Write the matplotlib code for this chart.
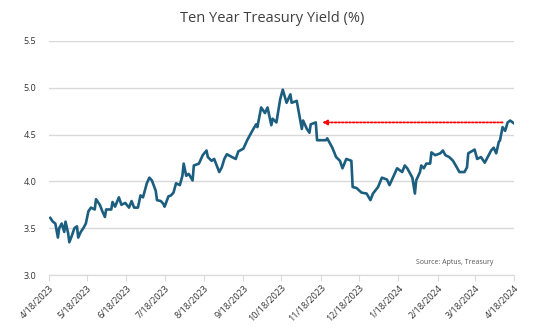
import matplotlib
matplotlib.use("Agg")
import matplotlib.pyplot as plt
import matplotlib.dates as mdates
import pandas as pd

plt.rcParams['font.family'] = ['Open Sans', 'DejaVu Sans']

dates = ["2023-04-19","2023-04-21","2023-04-23","2023-04-25","2023-04-26","2023-04-28","2023-04-30",
"2023-05-01","2023-05-03","2023-05-04","2023-05-06","2023-05-08","2023-05-10","2023-05-11","2023-05-13",
"2023-05-15","2023-05-17","2023-05-19","2023-05-21","2023-05-24","2023-05-25","2023-05-28","2023-05-30",
"2023-06-01","2023-06-02","2023-06-06","2023-06-07","2023-06-09","2023-06-12","2023-06-14","2023-06-17",
"2023-06-20","2023-06-22","2023-06-24","2023-06-27","2023-06-29","2023-07-01","2023-07-02","2023-07-04",
"2023-07-06","2023-07-08","2023-07-11","2023-07-12","2023-07-15","2023-07-17","2023-07-18","2023-07-21",
"2023-07-23","2023-07-25","2023-07-27","2023-07-30","2023-08-01","2023-08-02","2023-08-04","2023-08-06",
"2023-08-09","2023-08-10","2023-08-14","2023-08-17","2023-08-20","2023-08-21","2023-08-24","2023-08-26",
"2023-08-30","2023-09-01","2023-09-03","2023-09-05","2023-09-09","2023-09-12","2023-09-14","2023-09-18",
"2023-09-21","2023-09-25","2023-09-28","2023-09-29","2023-10-02","2023-10-05","2023-10-07","2023-10-10",
"2023-10-11","2023-10-14","2023-10-17","2023-10-19","2023-10-22","2023-10-25","2023-10-26","2023-10-30",
"2023-11-03","2023-11-04","2023-11-07","2023-11-09","2023-11-10","2023-11-14","2023-11-15","2023-11-17",
"2023-11-22","2023-11-23","2023-11-27","2023-11-30","2023-12-03","2023-12-05","2023-12-08","2023-12-12",
"2023-12-13","2023-12-16","2023-12-20","2023-12-24","2023-12-27","2023-12-29","2024-01-02","2024-01-05",
"2024-01-09","2024-01-11","2024-01-17","2024-01-19","2024-01-21","2024-01-23","2024-01-25","2024-01-29",
"2024-01-31","2024-02-01","2024-02-04","2024-02-05","2024-02-07","2024-02-09","2024-02-12","2024-02-13",
"2024-02-16","2024-02-20","2024-02-22","2024-02-24","2024-02-27","2024-03-01","2024-03-04","2024-03-06",
"2024-03-10","2024-03-12","2024-03-13","2024-03-18","2024-03-20","2024-03-23","2024-03-26","2024-03-31",
"2024-04-02","2024-04-04","2024-04-06","2024-04-07","2024-04-09","2024-04-11","2024-04-13","2024-04-15",
"2024-04-18"]

yields = [3.61,3.57,3.55,3.40,3.50,3.55,3.46,
3.57,3.45,3.35,3.42,3.50,3.52,3.40,3.46,
3.50,3.55,3.68,3.72,3.70,3.81,3.75,3.68,
3.62,3.70,3.70,3.78,3.73,3.83,3.75,3.77,
3.72,3.79,3.72,3.72,3.85,3.83,3.88,3.98,
4.04,4.01,3.90,3.80,3.79,3.76,3.73,3.84,
3.85,3.88,3.98,3.96,4.06,4.19,4.06,4.08,
4.01,4.17,4.19,4.28,4.33,4.26,4.22,4.24,
4.10,4.15,4.24,4.29,4.26,4.24,4.32,4.35,
4.44,4.54,4.61,4.58,4.79,4.73,4.79,4.60,
4.67,4.63,4.88,4.98,4.84,4.93,4.84,4.86,
4.56,4.65,4.56,4.52,4.61,4.63,4.44,4.44,
4.44,4.46,4.36,4.26,4.22,4.14,4.24,4.22,
3.94,3.93,3.88,3.87,3.80,3.87,3.94,4.04,
4.02,3.96,4.14,4.12,4.10,4.17,4.14,4.04,
3.87,4.01,4.10,4.17,4.14,4.19,4.19,4.31,
4.28,4.30,4.33,4.28,4.26,4.22,4.15,4.10,
4.10,4.15,4.30,4.34,4.24,4.26,4.20,4.33,
4.36,4.30,4.42,4.44,4.58,4.54,4.63,4.65,
4.62]

tick_dates = ["2023-04-18","2023-05-18","2023-06-18","2023-07-18","2023-08-18","2023-09-18",
"2023-10-18","2023-11-18","2023-12-18","2024-01-18","2024-02-18","2024-03-18","2024-04-18"]
tick_labels = ["4/18/2023","5/18/2023","6/18/2023","7/18/2023","8/18/2023","9/18/2023",
"10/18/2023","11/18/2023","12/18/2023","1/18/2024","2/18/2024","3/18/2024","4/18/2024"]
y_ticks = [3.0, 3.5, 4.0, 4.5, 5.0, 5.5]

arrow_level = 4.63
arrow_start = "2024-04-09"
arrow_end = "2023-11-19"

title = "Ten Year Treasury Yield (%)"
source = "Source: Aptus, Treasury"

x = pd.to_datetime(dates)
tx = pd.to_datetime(tick_dates)

fig = plt.figure(figsize=(5.44, 3.36), dpi=100)
ax = fig.add_axes([49/544, 1-275/336, 465/544, 234/336])

ax.plot(x, yields, color="#1b5e80", lw=1.9, solid_joinstyle="round")

ax.set_xlim(tx[0], tx[-1])
ax.set_ylim(3.0, 5.5)
ax.set_yticks(y_ticks)
ax.set_yticklabels([f"{v:.1f}" for v in y_ticks], fontsize=6.5, color="#333333")
ax.set_xticks(tx)
ax.set_xticklabels(tick_labels, rotation=45, ha="right", rotation_mode="anchor",
                   fontsize=6.5, color="#333333")
ax.tick_params(axis="y", length=0, pad=9)
ax.tick_params(axis="x", length=4, color="#d9d9d9", pad=2)
ax.grid(axis="y", color="#d9d9d9", lw=1)
ax.set_axisbelow(True)
for s in ["top", "right", "left"]:
    ax.spines[s].set_visible(False)
ax.spines["bottom"].set_color("#d9d9d9")

ax.annotate("", xy=(pd.Timestamp(arrow_end), arrow_level),
            xytext=(pd.Timestamp(arrow_start), arrow_level),
            arrowprops=dict(arrowstyle="-|>", color="red", lw=1.3, linestyle=(0, (1, 1)),
                            mutation_scale=7, shrinkA=0, shrinkB=0))

fig.text(272/544, 1-18/336, title, ha="center", va="center", fontsize=10.5, color="#404040")
ax.text(0.955, 0.055, source, transform=ax.transAxes, ha="right", va="center",
        fontsize=5, color="#555555")

fig.savefig("out.png", dpi=100, facecolor="white")
